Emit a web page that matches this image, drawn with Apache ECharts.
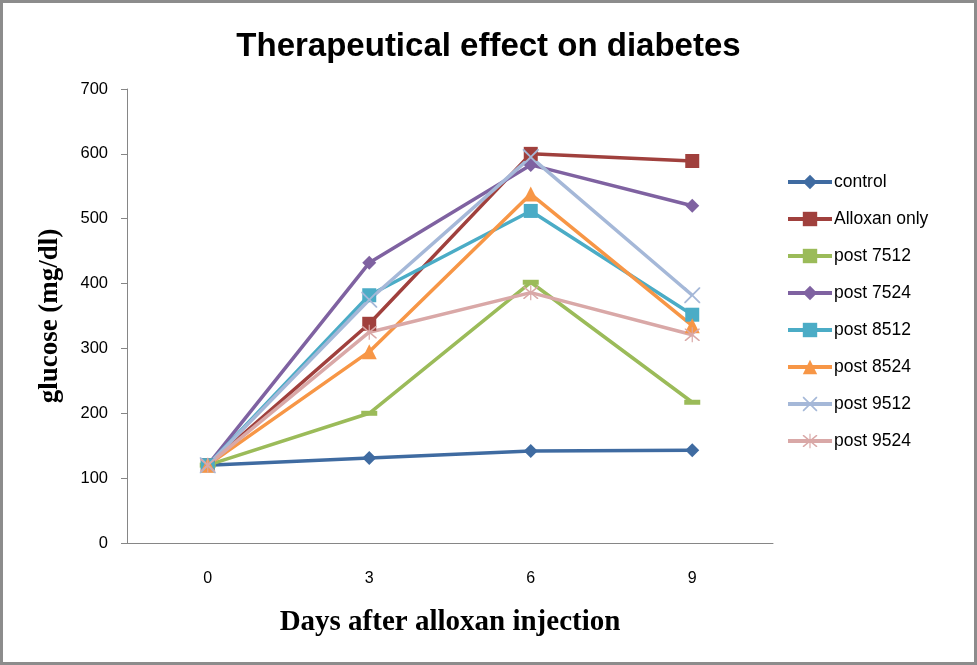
<!DOCTYPE html>
<html><head><meta charset="utf-8">
<script src="https://cdn.jsdelivr.net/npm/echarts@6/dist/echarts.min.js"></script>
<style>html,body{margin:0;padding:0;background:#fff}#c{width:977px;height:665px;box-sizing:border-box;border:3px solid #8c8c8c}</style>
</head><body><div id="c"></div>
<script>
const days = ['0','3','6','9'];
const control = [120,131,142,143];
const alloxanOnly = [120,338,600,589];
const post7512 = [120,200,402,217];
const post7524 = [120,432,583,520];
const post8512 = [120,382,512,352];
const post8524 = [120,295,538,335];
const post9512 = [120,375,595,382];
const post9524 = [120,325,386,321];
const yTicks = {min:0,max:700,interval:100};

const X_PATH = 'path://M0,0L1.6,0L10,8.4L18.4,0L20,0L20,1.6L11.6,10L20,18.4L20,20L18.4,20L10,11.6L1.6,20L0,20L0,18.4L8.4,10L0,1.6Z';
const STAR_PATH = 'path://M0,0L1.6,0L10,8.4L18.4,0L20,0L20,1.6L11.6,10L20,18.4L20,20L18.4,20L10,11.6L1.6,20L0,20L0,18.4L8.4,10L0,1.6ZM9.2,-2L10.8,-2L10.8,22L9.2,22Z';

const defs = [
  {name:'control', data:control, color:'#3F6BA1', symbol:'diamond', size:14},
  {name:'Alloxan only', data:alloxanOnly, color:'#A0403D', symbol:'rect', size:14},
  {name:'post 7512', data:post7512, color:'#9BBB59', symbol:'rect', size:[16,5]},
  {name:'post 7524', data:post7524, color:'#7F62A1', symbol:'diamond', size:14},
  {name:'post 8512', data:post8512, color:'#4BACC6', symbol:'rect', size:14},
  {name:'post 8524', data:post8524, color:'#F79646', symbol:'triangle', size:15},
  {name:'post 9512', data:post9512, color:'#A5B8D8', symbol:X_PATH, size:16},
  {name:'post 9524', data:post9524, color:'#D9A8A7', symbol:STAR_PATH, size:15}
];

const chart = echarts.init(document.getElementById('c'), null, {renderer:'canvas'});
chart.setOption({
  animation:false,
  backgroundColor:'#fff',
  title:{text:'Therapeutical effect on diabetes', left:'center', top:22,
    textStyle:{fontFamily:'Liberation Sans, Arial, sans-serif', fontWeight:'bold', fontSize:33, color:'#000'}},
  legend:{orient:'vertical', left:783, top:170, padding:0, itemGap:19, itemWidth:44, itemHeight:18,
    lineStyle:{width:4},
    textStyle:{fontFamily:'Liberation Sans, Arial, sans-serif', fontSize:17.5, color:'#000', padding:[0,0,0,-3]},
    data:defs.map(d=>d.name)},
  grid:{left:124, right:201, top:86, bottom:119, containLabel:false},
  xAxis:{type:'category', data:days, boundaryGap:true,
    name:'Days after alloxan injection', nameLocation:'middle', nameGap:65,
    nameTextStyle:{fontFamily:'Liberation Serif, Times New Roman, serif', fontWeight:'bold', fontSize:29, color:'#000'},
    axisLine:{lineStyle:{color:'#868686', width:1}}, axisTick:{show:false},
    axisLabel:{fontFamily:'Liberation Sans, Arial, sans-serif', fontSize:16, color:'#000', margin:28}},
  yAxis:{type:'value', min:yTicks.min, max:yTicks.max, interval:yTicks.interval,
    name:'glucose (mg/dl)', nameLocation:'middle', nameGap:63, nameRotate:90,
    nameTextStyle:{fontFamily:'Liberation Serif, Times New Roman, serif', fontWeight:'bold', fontSize:27, color:'#000'},
    axisLine:{show:true, lineStyle:{color:'#868686', width:1}},
    axisTick:{show:true, length:6, lineStyle:{color:'#868686'}},
    splitLine:{show:false},
    axisLabel:{fontFamily:'Liberation Sans, Arial, sans-serif', fontSize:16.5, color:'#000', margin:19}},
  series:defs.map(d=>({
    type:'line', name:d.name, data:d.data, symbol:d.symbol, symbolSize:d.size, showAllSymbol:true,
    lineStyle:{color:d.color, width:3.5}, itemStyle:{color:d.color, borderWidth:0}
  }))
});
</script></body></html>
